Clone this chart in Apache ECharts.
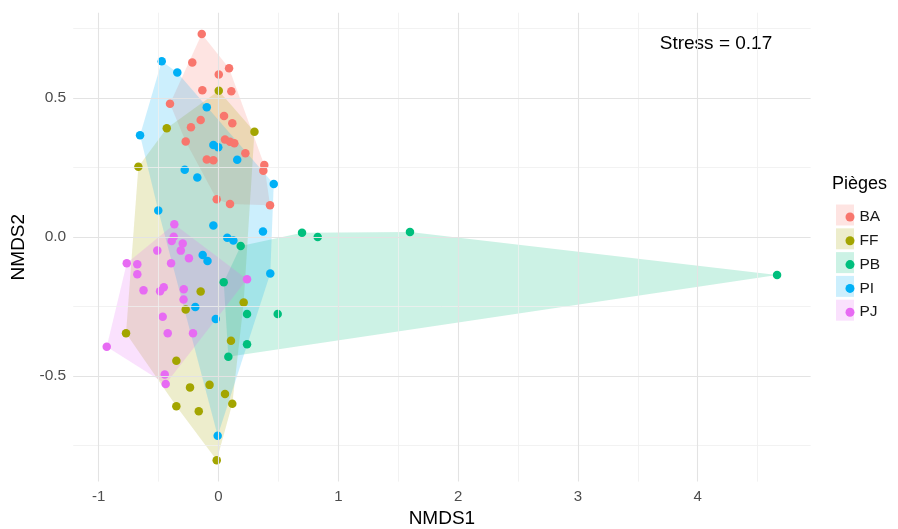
<!DOCTYPE html>
<html><head><meta charset="utf-8">
<script src="https://cdn.jsdelivr.net/npm/echarts@6/dist/echarts.min.js"></script>
<style>html,body{margin:0;padding:0;background:#fff}#c{width:898px;height:529px}</style>
</head><body><div id="c"></div>
<script>
const groups = ['BA','FF','PB','PI','PJ'];
const colors = ['#F8766D','#A3A500','#00BF7D','#00B0F6','#E76BF3'];

const BA = [[-0.140,0.730],[-0.219,0.628],[-0.135,0.528],[-0.405,0.479],[-0.230,0.395],[-0.149,0.421],[-0.274,0.344],[-0.098,0.279],[-0.043,0.276],[0.002,0.585],[0.088,0.607],[0.107,0.524],[0.046,0.435],[0.115,0.409],[0.054,0.351],[0.096,0.343],[0.132,0.337],[0.224,0.301],[0.382,0.259],[0.374,0.238],[-0.015,0.136],[0.096,0.119],[0.430,0.114]];
const FF = [[-0.432,0.391],[-0.669,0.253],[0.002,0.526],[0.300,0.379],[-0.149,-0.196],[0.210,-0.236],[-0.274,-0.261],[-0.772,-0.346],[-0.352,-0.445],[-0.238,-0.541],[-0.075,-0.532],[-0.352,-0.609],[-0.165,-0.627],[0.104,-0.373],[0.054,-0.565],[0.115,-0.600],[-0.015,-0.803]];
const PB = [[0.697,0.015],[0.828,0.000],[1.598,0.018],[4.662,-0.137],[0.185,-0.032],[0.043,-0.163],[0.238,-0.277],[0.494,-0.277],[0.238,-0.386],[0.082,-0.431]];
const PI = [[-0.474,0.632],[-0.344,0.592],[-0.098,0.467],[-0.655,0.366],[-0.282,0.242],[-0.177,0.214],[-0.043,0.331],[-0.002,0.323],[0.156,0.278],[0.461,0.191],[-0.503,0.095],[-0.043,0.041],[0.371,0.020],[0.073,-0.003],[0.124,-0.013],[-0.132,-0.065],[-0.092,-0.086],[0.432,-0.131],[-0.194,-0.252],[-0.023,-0.295],[-0.007,-0.715]];
const PJ = [[-0.369,0.046],[-0.374,0.001],[-0.391,-0.014],[-0.299,-0.023],[-0.315,-0.049],[-0.247,-0.076],[-0.511,-0.049],[-0.766,-0.094],[-0.678,-0.098],[-0.678,-0.134],[-0.396,-0.094],[-0.626,-0.192],[-0.488,-0.195],[-0.457,-0.181],[-0.290,-0.188],[-0.292,-0.225],[0.238,-0.152],[-0.466,-0.287],[-0.424,-0.346],[-0.213,-0.346],[-0.933,-0.395],[-0.449,-0.495],[-0.441,-0.529]];

const xMajor = [-1,0,1,2,3,4];
const xMinor = [-0.5,0.5,1.5,2.5,3.5,4.5];
const yMajor = [-0.5,0,0.5];
const yMinor = [-0.75,-0.25,0.25,0.75];
const xLimits = [-1.213, 4.942];
const yLimits = [-0.880, 0.807];
const stressText = 'Stress = 0.17';
const legendTitle = 'Pièges';

const groupData = [BA, FF, PB, PI, PJ];
const FONT = '"Liberation Sans", Arial, sans-serif';

function rgba(hex, a){
  const n = parseInt(hex.slice(1),16);
  return 'rgba(' + ((n>>16)&255) + ',' + ((n>>8)&255) + ',' + (n&255) + ',' + a + ')';
}
function hull(pts){
  const p = pts.slice().sort((a,b)=>a[0]-b[0]||a[1]-b[1]);
  const cross=(o,a,b)=>(a[0]-o[0])*(b[1]-o[1])-(a[1]-o[1])*(b[0]-o[0]);
  const lower=[]; for(const q of p){while(lower.length>=2&&cross(lower[lower.length-2],lower[lower.length-1],q)<=0)lower.pop(); lower.push(q);}
  const upper=[]; for(let i=p.length-1;i>=0;i--){const q=p[i]; while(upper.length>=2&&cross(upper[upper.length-2],upper[upper.length-1],q)<=0)upper.pop(); upper.push(q);}
  upper.pop(); lower.pop(); return lower.concat(upper);
}

const series = [];
const majorStyle = {color:'#e3e3e3', width:1.1, type:'solid'};
const minorStyle = {color:'#efefef', width:0.8, type:'solid'};
series.push({
  type:'scatter', name:'_grid', data:[], silent:true, z:0,
  markLine:{
    silent:true, symbol:['none','none'], label:{show:false}, animation:false,
    emphasis:{disabled:true},
    data: [].concat(
      xMinor.map(v=>({xAxis:v, lineStyle:minorStyle})),
      yMinor.map(v=>({yAxis:v, lineStyle:minorStyle})),
      xMajor.map(v=>({xAxis:v, lineStyle:majorStyle})),
      yMajor.map(v=>({yAxis:v, lineStyle:majorStyle}))
    )
  }
});
groups.forEach((g,i)=>{
  const h = hull(groupData[i]);
  series.push({
    type:'custom', name:g+'_hull', silent:true, z:1,
    data:[[0,0]],
    renderItem:(params, api)=>({
      type:'polygon',
      shape:{points:h.map(p=>api.coord(p))},
      style:{fill:rgba(colors[i],0.2), stroke:null}
    })
  });
});
groups.forEach((g,i)=>{
  series.push({
    type:'scatter', name:g, data:groupData[i], symbol:'circle', symbolSize:8.5, z:3,
    itemStyle:{color:colors[i], opacity:1}
  });
});

const legendCenter0 = 215;
const legendStep = 23.8;
const graphics = [
  {type:'text', x:716, y:44, style:{text:stressText, font:'19px '+FONT, fill:'#000', textAlign:'center', textVerticalAlign:'middle'}},
  {type:'text', x:832, y:184, style:{text:legendTitle, font:'18px '+FONT, fill:'#000', textAlign:'left', textVerticalAlign:'middle'}}
];
groups.forEach((g,i)=>{
  graphics.push({type:'rect', z:-1, shape:{x:836, y:legendCenter0 + i*legendStep - 10.5, width:18, height:21},
    style:{fill:rgba(colors[i],0.2)}});
});

const option = {
  animation:false,
  backgroundColor:'#fff',
  textStyle:{fontFamily:FONT},
  grid:{left:73.2, right:898-810.6, top:12.7, bottom:529-481.6, containLabel:false, outerBoundsMode:'none'},
  xAxis:{
    type:'value', min:xLimits[0], max:xLimits[1], splitNumber:6,
    axisLine:{show:false}, axisTick:{show:false}, splitLine:{show:false},
    axisLabel:{customValues:xMajor, formatter:v=>String(v), color:'#4d4d4d', fontSize:15, margin:8, fontFamily:FONT},
    name:'NMDS1', nameLocation:'middle', nameGap:27,
    nameTextStyle:{color:'#000', fontSize:19, fontFamily:FONT}
  },
  yAxis:{
    type:'value', min:yLimits[0], max:yLimits[1], splitNumber:4,
    axisLine:{show:false}, axisTick:{show:false}, splitLine:{show:false},
    axisLabel:{customValues:yMajor, formatter:v=>v.toFixed(1), color:'#4d4d4d', fontSize:15.5, margin:7, fontFamily:FONT},
    name:'NMDS2', nameLocation:'middle', nameGap:44, nameRotate:90,
    nameTextStyle:{color:'#000', fontSize:19, fontFamily:FONT}
  },
  legend:{
    data:groups.map((g,i)=>({name:g, itemStyle:{color:colors[i]}})),
    orient:'vertical', left:840.5, top:legendCenter0-11, icon:'circle',
    itemWidth:9, itemHeight:9, itemGap:legendStep-16, itemTextGap:6,
    selectedMode:false,
    textStyle:{fontSize:15.5, color:'#1a1a1a', fontFamily:FONT, lineHeight:16}
  },
  graphic:graphics,
  series:series
};
const chart = echarts.init(document.getElementById('c'), null, {renderer:'canvas'});
chart.setOption(option);
</script>
</body></html>
